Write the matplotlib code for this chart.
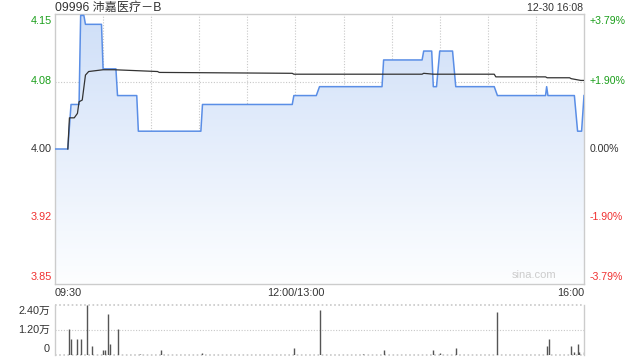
import matplotlib
matplotlib.use("Agg")
import matplotlib.pyplot as plt
import numpy as np
from matplotlib.colors import LinearSegmentedColormap

plt.rcParams['font.family'] = ['Liberation Sans', 'Noto Sans CJK SC', 'DejaVu Sans']

# ---- data ----
title = "09996 沛嘉医疗－B"
stamp = "12-30 16:08"
prev_close = 4.00
# minutes since 09:30 (lunch removed; 150 = 12:00/13:00, 330 = 16:00)
price_t = [0, 8, 10, 15, 16, 18, 19, 29, 30, 38, 39, 51, 52, 91, 92, 148, 149, 163, 165,
           204, 205, 229, 230, 235, 236, 238, 240, 248, 250, 274, 276, 306, 306.7, 307.5,
           324, 326, 328.5, 330]
price_v = [4.00, 4.00, 4.05, 4.05, 4.15, 4.15, 4.14, 4.14, 4.09, 4.09, 4.06, 4.06, 4.02, 4.02,
           4.05, 4.05, 4.06, 4.06, 4.07, 4.07, 4.10, 4.10, 4.11, 4.11, 4.07, 4.07, 4.11, 4.11,
           4.07, 4.07, 4.06, 4.06, 4.07, 4.06, 4.06, 4.02, 4.02, 4.06]
avg_t = [8, 9, 12, 14, 15, 17, 19, 21, 30, 37, 64, 65, 148, 149, 229, 230, 236, 274, 275,
         306, 307, 321, 322, 325, 328, 330]
avg_v = [4.00, 4.035, 4.035, 4.04, 4.053, 4.055, 4.083, 4.087, 4.089, 4.089, 4.087, 4.086,
         4.085, 4.084, 4.084, 4.085, 4.084, 4.084, 4.081, 4.081, 4.080, 4.080, 4.079, 4.078,
         4.077, 4.077]
vol_t = [9, 10, 14, 16, 20, 23, 30, 31, 33, 34, 39, 53, 66, 92, 149, 165, 192, 205, 236,
         240, 250, 276, 307, 308, 322, 324, 326, 327, 330]
vol_v = [12500, 7700, 7700, 7700, 24000, 4300, 2400, 2400, 19800, 5400, 12500, 600, 2400,
         1000, 3200, 21400, 500, 2400, 2400, 1000, 3200, 20600, 4300, 7700, 4300, 1400,
         5400, 1400, 1500]
left_ticks = [4.15, 4.08, 4.00, 3.92, 3.85]
right_ticks = ["+3.79%", "+1.90%", "0.00%", "-1.90%", "-3.79%"]
x_labels = ["09:30", "12:00/13:00", "16:00"]
vol_labels = ["2.40万", "1.20万", "0"]

GREEN = "#1a9e1a"
RED = "#f03030"
DARK = "#333333"
BLUE = "#5a8ee6"
GRID = "#c8c8c8"

W, H = 640, 360
fig = plt.figure(figsize=(6.4, 3.6), dpi=100)

def box(l, t, r, b):
    return [l / W, 1 - b / H, (r - l) / W, (b - t) / H]

ax = fig.add_axes(box(55, 14, 584, 284))
vax = fig.add_axes(box(55, 305, 584, 355))

span = prev_close * 0.0379
y0, y1 = prev_close - span, prev_close + span
ax.set_xlim(0, 330)
ax.set_ylim(y0, y1)

# gradient fill under price
poly = ax.fill_between(price_t, price_v, y0, color='none', lw=0)
cmap = LinearSegmentedColormap.from_list("g", ["#fdfeff", "#cfdff8"])
grad = np.linspace(0, 1, 256).reshape(-1, 1)
im = ax.imshow(grad, cmap=cmap, aspect='auto', extent=[0, 330, y0, y1], origin='lower', zorder=1)
path = poly.get_paths()[0]
im.set_clip_path(path, transform=ax.transData)

# grid
for m in range(30, 330, 30):
    ax.axvline(m, color=GRID, lw=0.8, ls=(0, (1, 1.5)), zorder=0.5)
for v in [prev_close + span / 2, prev_close - span / 2]:
    ax.axhline(v, color=GRID, lw=0.8, ls=(0, (1, 1.5)), zorder=0.5)
ax.axhline(prev_close, color="#b0b0b0", lw=0.8, ls=(0, (3, 3)), zorder=0.6)

ax.plot(price_t, price_v, color=BLUE, lw=1.1, zorder=3)
ax.plot(avg_t, avg_v, color=DARK, lw=0.9, zorder=4)

ax.set_xticks([]); ax.set_yticks([])
for s in ax.spines.values():
    s.set_color("#cccccc"); s.set_linewidth(1)

# left / right labels
lvals = [y1, prev_close + span / 2, prev_close, prev_close - span / 2, y0]
cols = [GREEN, GREEN, DARK, RED, RED]
vas = ['top', 'center', 'center', 'center', 'bottom']
offs = [-2, 0, 0, 0, 2]
for lab, v, c, va, o in zip(left_ticks, lvals, cols, vas, offs):
    ax.annotate(f"{lab:.2f}", xy=(0, v), xycoords=('axes fraction', 'data'),
                xytext=(-3, o), textcoords='offset pixels', ha='right', va=va,
                color=c, fontsize=7.8)
for lab, v, c, va, o in zip(right_ticks, lvals, cols, vas, offs):
    ax.annotate(lab, xy=(1, v), xycoords=('axes fraction', 'data'),
                xytext=(6, o), textcoords='offset pixels', ha='left', va=va,
                color=c, fontsize=7.6)

# x labels
for lab, m, ha in zip(x_labels, [0, 150, 330], ['left', 'center', 'right']):
    ax.annotate(lab, xy=(m, 0), xycoords=('data', 'axes fraction'),
                xytext=(0, -4), textcoords='offset pixels', ha=ha, va='top',
                color=DARK, fontsize=7.8)

fig.text(55 / W, 1 - 11 / H, title, fontsize=8.7, color=DARK, ha='left', va='baseline')
fig.text(583 / W, 1 - 11 / H, stamp, fontsize=7.6, color=DARK, ha='right', va='baseline')
ax.text(0.905, 0.035, "sina.com", transform=ax.transAxes, color="#cccccc",
        fontsize=8, ha='center', va='center')

# volume
vax.set_xlim(0, 330)
vax.set_ylim(0, 24000)
vax.axhline(12000, color=GRID, lw=0.8, ls=(0, (1, 1.5)))
vax.axhline(24000, color=GRID, lw=1.2, ls=(0, (1, 1.5)), clip_on=False)
vax.axhline(0, color=GRID, lw=1.2, ls=(0, (1, 1.5)), clip_on=False)
vax.vlines(vol_t, 0, vol_v, color="#555555", lw=1)
vax.set_xticks([]); vax.set_yticks([])
for k in ['top', 'bottom']:
    vax.spines[k].set_visible(False)
for k in ['left', 'right']:
    vax.spines[k].set_color("#cccccc"); vax.spines[k].set_linewidth(1)
for lab, v, va, o in zip(vol_labels, [24000, 12000, 0], ['top', 'center', 'bottom'], [-1, 0, 1]):
    vax.annotate(lab, xy=(0, v), xycoords=('axes fraction', 'data'),
                 xytext=(-5, o), textcoords='offset pixels', ha='right', va=va,
                 color=DARK, fontsize=7.8, annotation_clip=False)

fig.savefig("out.png", dpi=100)
